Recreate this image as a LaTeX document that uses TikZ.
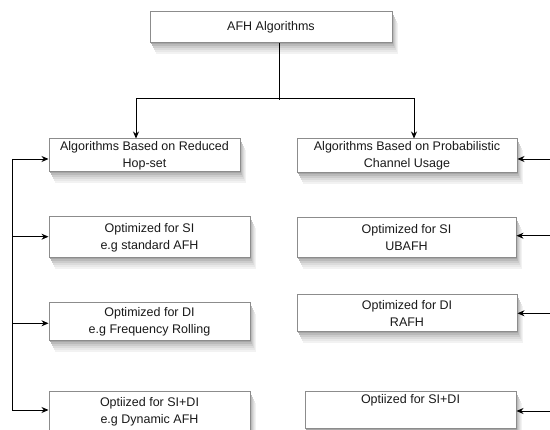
\documentclass[tikz,border=0pt]{standalone}
\usepackage{fontspec}
\setmainfont{Liberation Sans}
\usetikzlibrary{arrows.meta}
\definecolor{sh1}{gray}{0.95}
\definecolor{sh2}{gray}{0.91}
\definecolor{sh3}{gray}{0.86}
\definecolor{sh4}{gray}{0.80}
\definecolor{sh5}{gray}{0.73}
\definecolor{sh6}{gray}{0.65}
\newcommand\algnode[6]{%
  \path[fill=sh1] ({#2-#4/2+5.5},{#3-#5/2+11}) rectangle ({#2+#4/2+5.5},{#3+#5/2+11});
  \path[fill=sh2] ({#2-#4/2+4.5},{#3-#5/2+9}) rectangle ({#2+#4/2+4.5},{#3+#5/2+9});
  \path[fill=sh3] ({#2-#4/2+3.5},{#3-#5/2+7}) rectangle ({#2+#4/2+3.5},{#3+#5/2+7});
  \path[fill=sh4] ({#2-#4/2+2.5},{#3-#5/2+5}) rectangle ({#2+#4/2+2.5},{#3+#5/2+5});
  \path[fill=sh5] ({#2-#4/2+1.5},{#3-#5/2+3}) rectangle ({#2+#4/2+1.5},{#3+#5/2+3});
  \path[fill=sh6] ({#2-#4/2+0.75},{#3-#5/2+1.5}) rectangle ({#2+#4/2+0.75},{#3+#5/2+1.5});
  \node[algbox,minimum width=#4pt,minimum height=#5pt] (#1) at (#2,#3) {#6};}
\begin{document}
\begin{tikzpicture}[x=1pt,y=-1pt,
  algbox/.style={draw=black!45,line width=1pt,fill=white,rectangle,inner sep=0pt,
    align=center,text=black!90,font=\fontsize{12.5}{17}\selectfont},
  conn/.style={draw=black,line width=0.9pt},
  arr/.style={conn,-{Stealth[length=7pt,width=6pt]}}]
\useasboundingbox (0,0) rectangle (550,430);
\algnode{top}{271}{27.5}{242}{31}{AFH Algorithms}
\algnode{L1}{144.5}{155.5}{191}{33}{Algorithms Based on Reduced\\Hop-set}
\algnode{R1}{407}{156}{220}{34}{Algorithms Based on Probabilistic\\Channel Usage}
\algnode{L2}{149.5}{237.5}{201}{41}{Optimized for SI\\e.g standard AFH}
\algnode{R2}{406.5}{238}{219}{40}{Optimized for SI\\UBAFH}
\algnode{L3}{149.5}{322}{201}{38}{Optimized for DI\\e.g Frequency Rolling}
\algnode{R3}{407}{313.5}{220}{37}{Optimized for DI\\RAFH}
\algnode{L4}{149.5}{412}{201}{40}{Optiized for SI+DI\\e.g Dynamic AFH}
\algnode{R4}{410.5}{410.5}{211}{37}{Optiized for SI+DI\\\strut}
% top connectors
\coordinate (jn) at (279,98.5);
\coordinate (ja) at (136,98.5);
\coordinate (jb) at (414,98.5);
\coordinate (je) at (279,100);
\draw[conn] (top.south -| jn) -- (je);
\draw[arr] (jn) -- (ja) -- (ja |- L1.north);
\draw[arr] (jn) -- (jb) -- (jb |- R1.north);
% left bus
\coordinate (b1) at (12,159);
\coordinate (b2) at (12,236.7);
\coordinate (b3) at (12,323.3);
\coordinate (b4) at (12,410);
\draw[conn] (b1) -- (b4);
\draw[arr] (b1) -- (b1 -| L1.west);
\draw[arr] (b2) -- (b2 -| L2.west);
\draw[arr] (b3) -- (b3 -| L3.west);
\draw[arr] (b4) -- (b4 -| L4.west);
% right incoming
\coordinate (r1) at (555,159);
\coordinate (r2) at (555,235.7);
\coordinate (r3) at (555,313.3);
\coordinate (r4) at (555,411);
\draw[arr] (r1) -- (r1 -| R1.east);
\draw[arr] (r2) -- (r2 -| R2.east);
\draw[arr] (r3) -- (r3 -| R3.east);
\draw[arr] (r4) -- (r4 -| R4.east);
\end{tikzpicture}
\end{document}
